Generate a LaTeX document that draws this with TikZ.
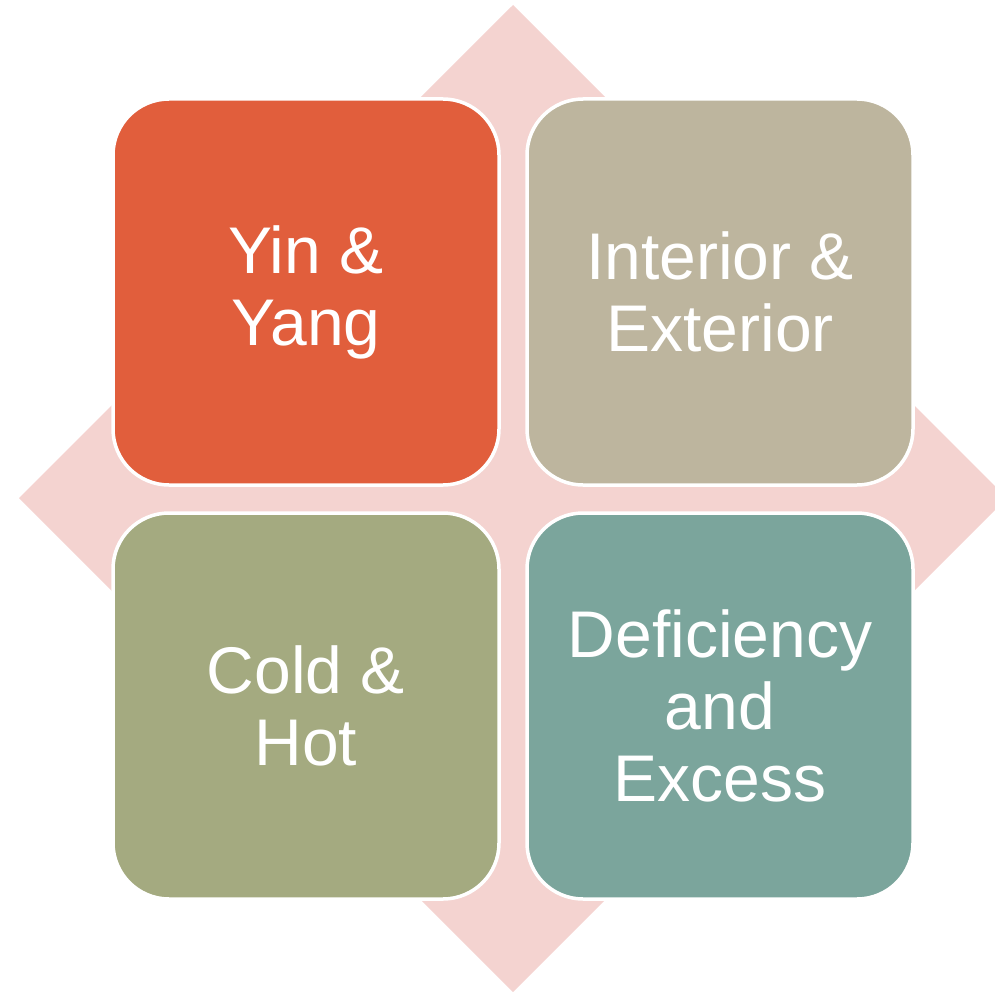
\documentclass[tikz,border=0pt]{standalone}
\usepackage{fontspec}
\setmainfont{Liberation Sans}
\usepackage{tikz}

\definecolor{diamondpink}{RGB}{244,211,208}
\definecolor{yinred}{RGB}{225,94,60}
\definecolor{interiortan}{RGB}{189,181,158}
\definecolor{coldolive}{RGB}{164,170,128}
\definecolor{excessteal}{RGB}{123,165,156}

\begin{document}
\begin{tikzpicture}[x=1pt, y=-1pt,
	quadrant/.style={draw=white, line width=3.5pt, rounded corners=56pt,
		minimum width=386pt, minimum height=386pt, inner sep=0pt,
		align=center, text=white, font=\fontsize{66}{72}\selectfont}]
	\useasboundingbox (0,0) rectangle (995,992);
	\clip (0,0) rectangle (995,992);
	% diamond
	\fill [diamondpink] (513,5) -- (19,498) -- (513,992) -- (1007,498) -- cycle;
	% boxes
	\node[quadrant, fill=yinred] (yinyang) at (306,292) {Yin \&\\Yang};
	\node[quadrant, fill=interiortan] (interior) at (720,292) {Interior \&\\Exterior};
	\node[quadrant, fill=coldolive] (coldhot) at (306,706) {Cold \&\\Hot};
	\node[quadrant, fill=excessteal] (excess) at (720,706) {Deficiency\\and\\Excess};
\end{tikzpicture}
\end{document}
